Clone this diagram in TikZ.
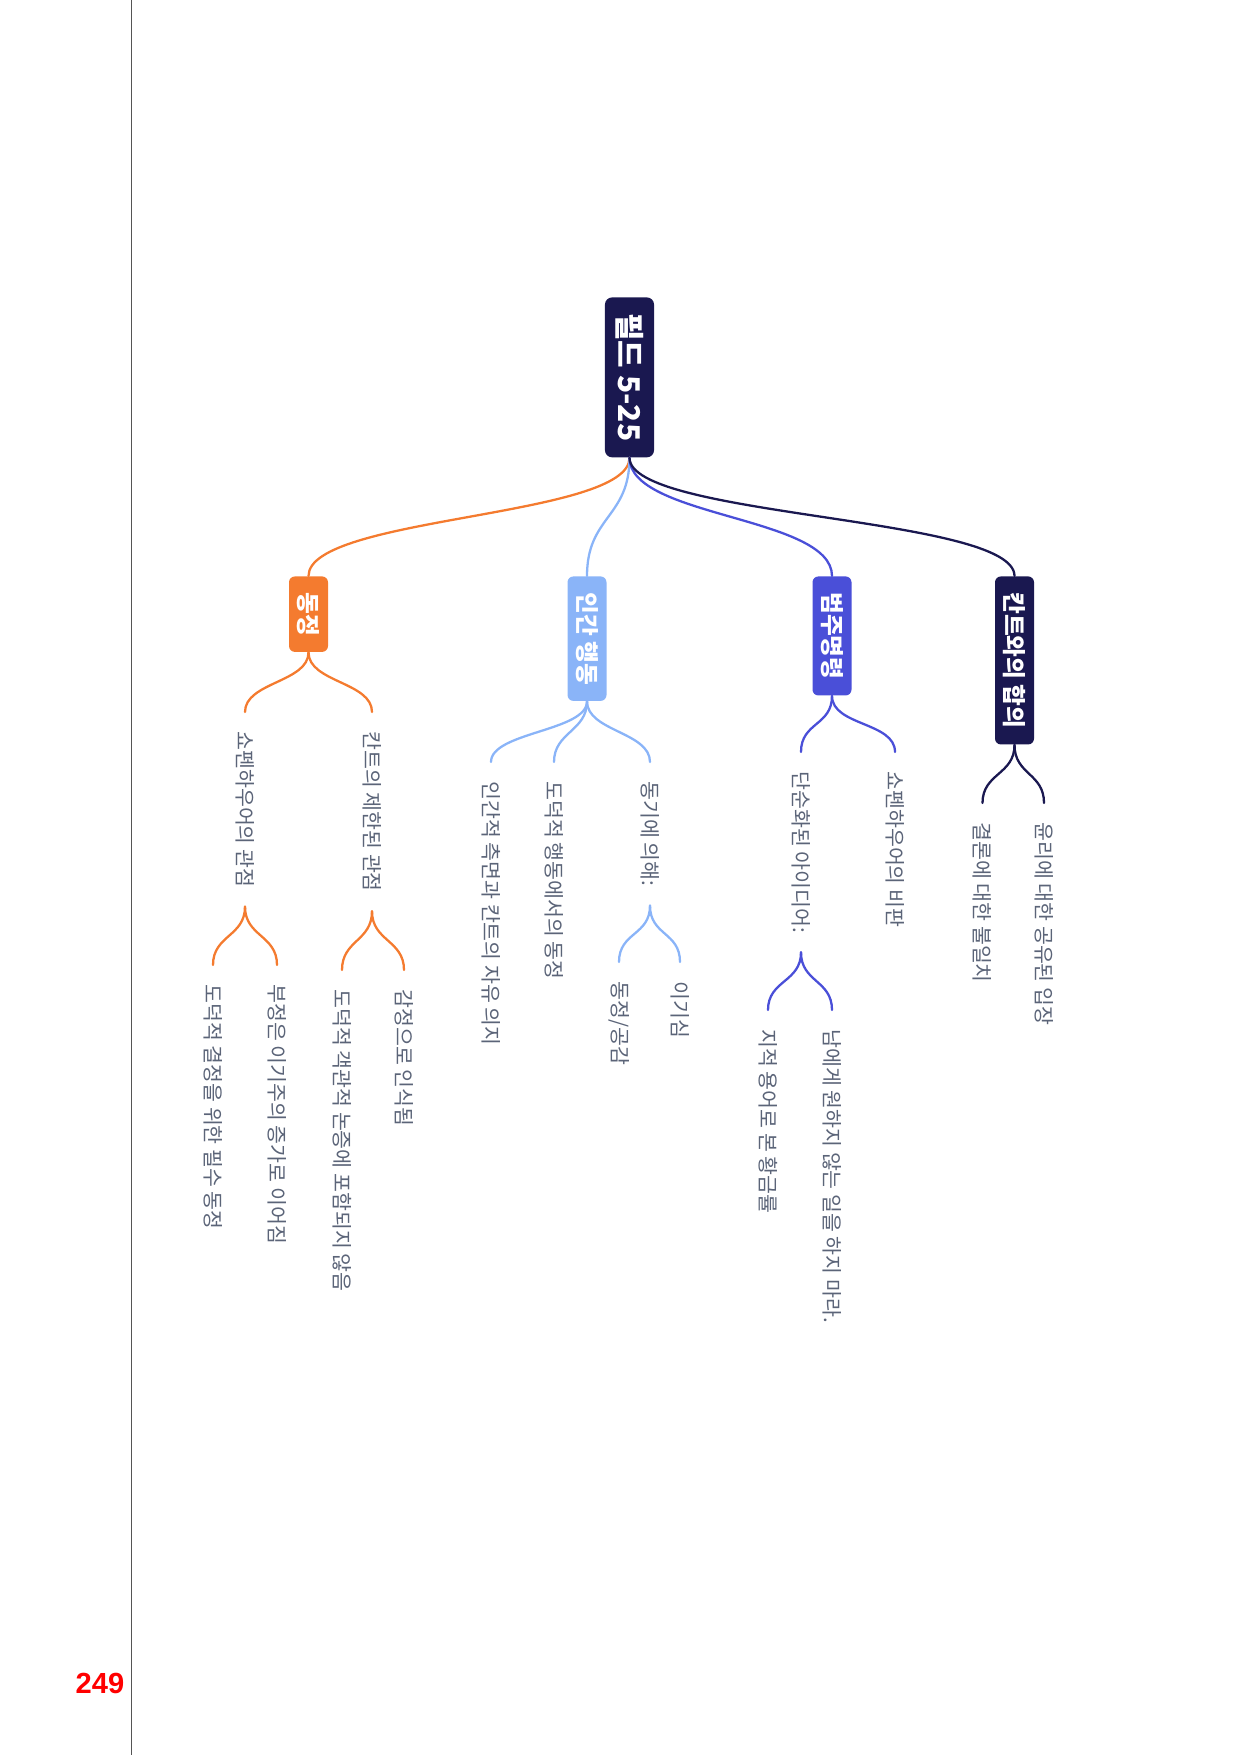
\documentclass[tikz,border=0pt]{standalone}
\usepackage{fontspec}
\usepackage{xcolor}
\usepackage{tikz}
\setmainfont{Liberation Sans}
\newfontfamily\krfont{Noto Sans CJK KR}
\definecolor{mmnavy}{HTML}{1A1850}
\definecolor{mmorange}{HTML}{F47B2F}
\definecolor{mmlight}{HTML}{8AB4F8}
\definecolor{mmblue}{HTML}{4A4FD8}
\definecolor{mmtext}{HTML}{5B6478}
\definecolor{rulegray}{HTML}{555555}
\tikzset{
  root/.style={rectangle, rounded corners=1.2mm, fill=mmnavy, text=white,
    rotate=-90, font=\krfont\bfseries\fontsize{14.4}{16}\selectfont,
    inner xsep=2.7mm, inner ysep=1mm, minimum height=8.3mm},
  topic/.style={rectangle, rounded corners=1mm, text=white, rotate=-90,
    font=\krfont\bfseries\fontsize{11.4}{13}\selectfont,
    inner xsep=2.7mm, minimum height=6.6mm},
  leaf/.style={rotate=-90, text=mmtext, font=\krfont\fontsize{9.9}{12}\selectfont,
    inner xsep=3.2mm, inner ysep=1pt},
  br/.style={line width=1.1pt, line cap=round,
    to path={.. controls +(0,#1) and +(0,-#1) .. (\tikztotarget)}},
  rule/.style={draw=rulegray, line width=0.7pt},
  pagenum/.style={text=red, font=\bfseries\fontsize{14}{16}\selectfont},
}
\begin{document}
\begin{tikzpicture}[x=0.1692mm, y=-0.1692mm]
  \useasboundingbox (0,0) rectangle (1241,1755);
  \coordinate (ruletop) at (131.5,0);
  \coordinate (rulebot) at (131.5,1755);
  \draw[rule] (ruletop) -- (rulebot);
  \node[pagenum] (page) at (100,1683) {249};

  \node[root, anchor=west] (field) at (629.5,297) {필드 5-25};

  \node[topic, fill=mmorange, anchor=west] (sympathy) at (308.5,576) {동정};
  \node[topic, fill=mmlight, anchor=west] (human) at (587,576) {인간 행동};
  \node[topic, fill=mmblue, anchor=west] (imperative) at (832,576) {범주명령};
  \node[topic, fill=mmnavy, anchor=west] (accord) at (1014.5,576) {칸트와의 합의};

  \node[leaf, anchor=west] (schview) at (245,712) {쇼펜하우어의 관점};
  \node[leaf, anchor=west] (kantview) at (372,712) {칸트의 제한된 관점};
  \node[leaf, anchor=west] (needed) at (213,965) {도덕적 결정을 위한 필수 동정};
  \node[leaf, anchor=west] (denial) at (277,965) {부정은 이기주의 증가로 이어짐};
  \node[leaf, anchor=west] (excluded) at (342,970) {도덕적 객관적 논증에 포함되지 않음};
  \node[leaf, anchor=west] (feeling) at (404,970) {감정으로 인식됨};

  \node[leaf, anchor=west] (freewill) at (491,762) {인간적 측면과 칸트의 자유 의지};
  \node[leaf, anchor=west] (moralact) at (554,762) {도덕적 행동에서의 동정};
  \node[leaf, anchor=west] (motive) at (650,762) {동기에 의해:};
  \node[leaf, anchor=west] (empathy) at (619,962) {동정/공감};
  \node[leaf, anchor=west] (egoism) at (680,962) {이기심};

  \node[leaf, anchor=west] (simple) at (801,752) {단순화된 아이디어:};
  \node[leaf, anchor=west] (critique) at (895,752) {쇼펜하우어의 비판};
  \node[leaf, anchor=west] (golden) at (768,1010) {지적 용어로 본 황금률};
  \node[leaf, anchor=west] (dontdo) at (832,1010) {남에게 원하지 않는 일을 하지 마라.};

  \node[leaf, anchor=west] (disagree) at (982.5,803) {결론에 대한 불일치};
  \node[leaf, anchor=west] (shared) at (1044,803) {윤리에 대한 공유된 입장};

  \draw[br=60, mmorange] (field.east) to (sympathy.west);
  \draw[br=60, mmlight] (field.east) to (human.west);
  \draw[br=60, mmblue] (field.east) to (imperative.west);
  \draw[br=60, mmnavy] (field.east) to (accord.west);

  \draw[br=30, mmorange] (sympathy.east) to (schview.west);
  \draw[br=30, mmorange] (sympathy.east) to (kantview.west);
  \draw[br=30, mmorange] (schview.east) to (needed.west);
  \draw[br=30, mmorange] (schview.east) to (denial.west);
  \draw[br=30, mmorange] (kantview.east) to (excluded.west);
  \draw[br=30, mmorange] (kantview.east) to (feeling.west);

  \draw[br=30, mmlight] (human.east) to (freewill.west);
  \draw[br=30, mmlight] (human.east) to (moralact.west);
  \draw[br=30, mmlight] (human.east) to (motive.west);
  \draw[br=30, mmlight] (motive.east) to (empathy.west);
  \draw[br=30, mmlight] (motive.east) to (egoism.west);

  \draw[br=30, mmblue] (imperative.east) to (simple.west);
  \draw[br=30, mmblue] (imperative.east) to (critique.west);
  \draw[br=30, mmblue] (simple.east) to (golden.west);
  \draw[br=30, mmblue] (simple.east) to (dontdo.west);

  \draw[br=30, mmnavy] (accord.east) to (disagree.west);
  \draw[br=30, mmnavy] (accord.east) to (shared.west);
\end{tikzpicture}
\end{document}
